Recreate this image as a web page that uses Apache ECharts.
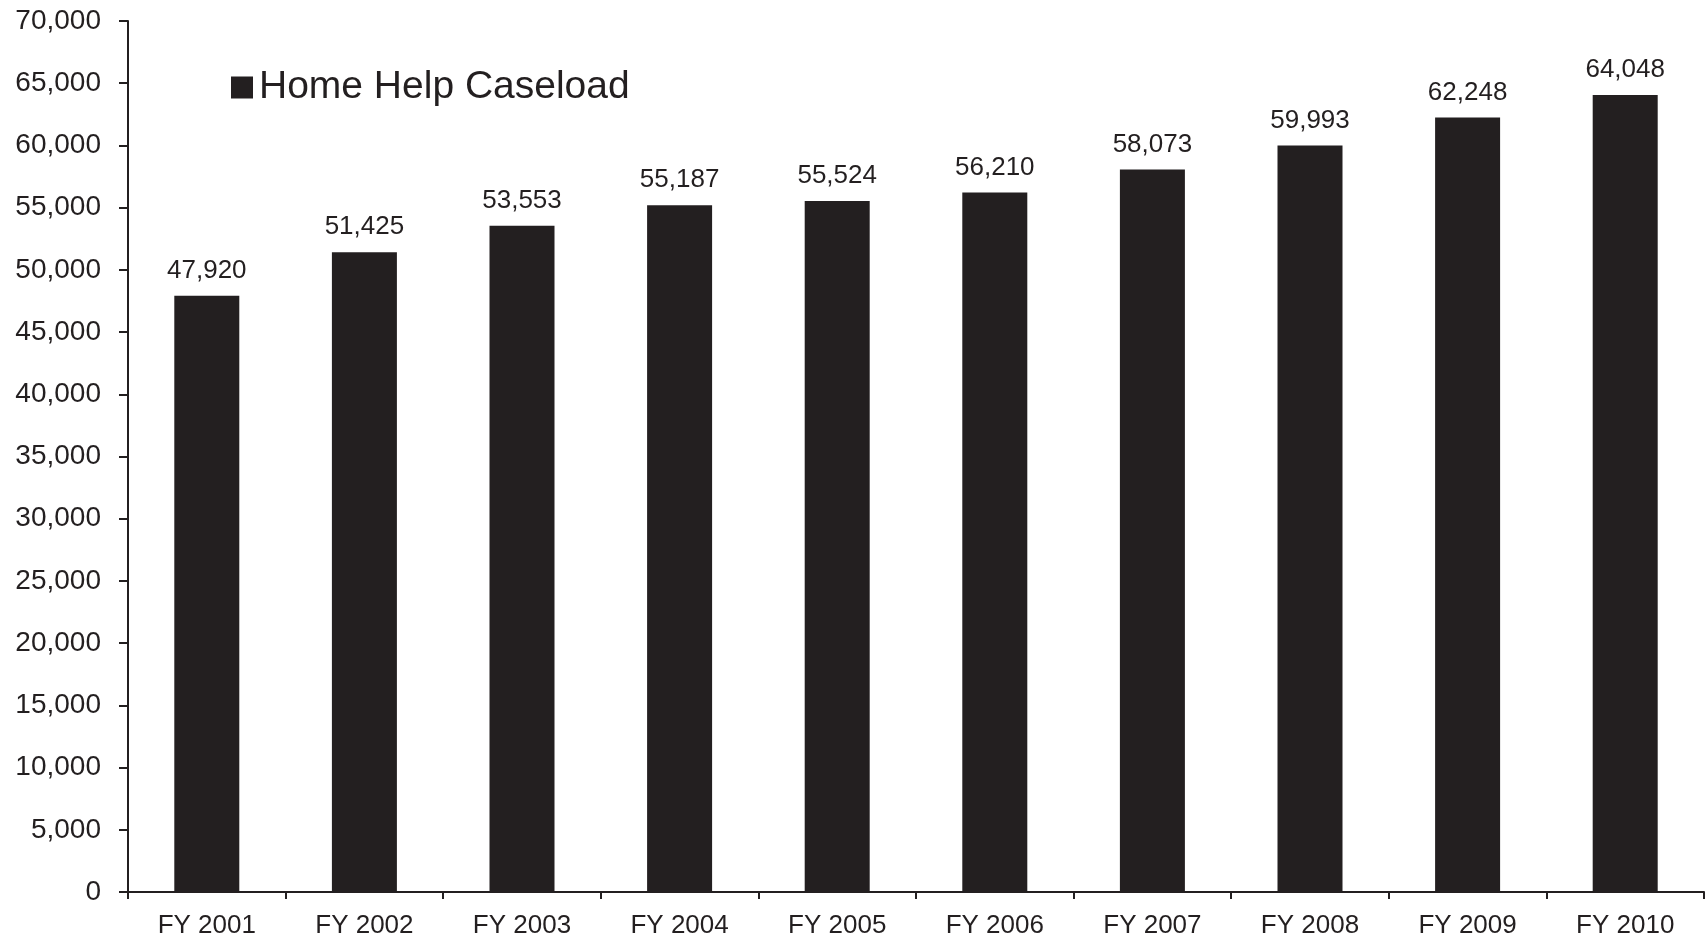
<!DOCTYPE html>
<html>
<head>
<meta charset="utf-8">
<script src="https://cdn.jsdelivr.net/npm/echarts@6/dist/echarts.min.js"></script>
<style>
html,body{margin:0;padding:0;background:#fff;}
#chart{width:1705px;height:939px;}
</style>
</head>
<body>
<div id="chart"></div>
<script>
const categories = ["FY 2001","FY 2002","FY 2003","FY 2004","FY 2005","FY 2006","FY 2007","FY 2008","FY 2009","FY 2010"];
const caseload = [47920,51425,53553,55187,55524,56210,58073,59993,62248,64048];
const seriesName = "Home Help Caseload";

const ink = "#231f20";
const font = "'Liberation Sans', Arial, sans-serif";
const fmt = v => Number(v).toLocaleString('en-US');

const chart = echarts.init(document.getElementById('chart'));
chart.setOption({
  animation: false,
  backgroundColor: '#fff',
  textStyle: { fontFamily: font, color: ink },
  grid: { left: 128, right: 1, top: 21, bottom: 46, containLabel: false },
  legend: {
    data: [seriesName],
    left: 226, top: 63,
    itemWidth: 22, itemHeight: 22, itemGap: 10,
    icon: 'rect',
    textStyle: { fontSize: 39, color: ink, fontFamily: font, padding: [0,0,0,1] }
  },
  xAxis: {
    type: 'category',
    data: categories,
    axisLine: { lineStyle: { color: ink, width: 2 } },
    axisTick: { show: true, length: 7, lineStyle: { color: ink, width: 2 }, alignWithLabel: false },
    axisLabel: { fontSize: 26, color: ink, fontFamily: font, margin: 21, interval: 0 }
  },
  yAxis: {
    type: 'value',
    min: 0, max: 70000, interval: 5000,
    axisLine: { show: true, lineStyle: { color: ink, width: 2 } },
    axisTick: { show: true, length: 9, lineStyle: { color: ink, width: 2 } },
    splitLine: { show: false },
    axisLabel: { fontSize: 28, color: ink, fontFamily: font, margin: 27, formatter: fmt }
  },
  series: [{
    name: seriesName,
    type: 'bar',
    data: caseload,
    barWidth: 65,
    itemStyle: { color: ink },
    label: {
      show: true, position: 'top', distance: 12,
      fontSize: 26, color: ink, fontFamily: font,
      formatter: p => fmt(p.value)
    }
  }]
});
</script>
</body>
</html>
